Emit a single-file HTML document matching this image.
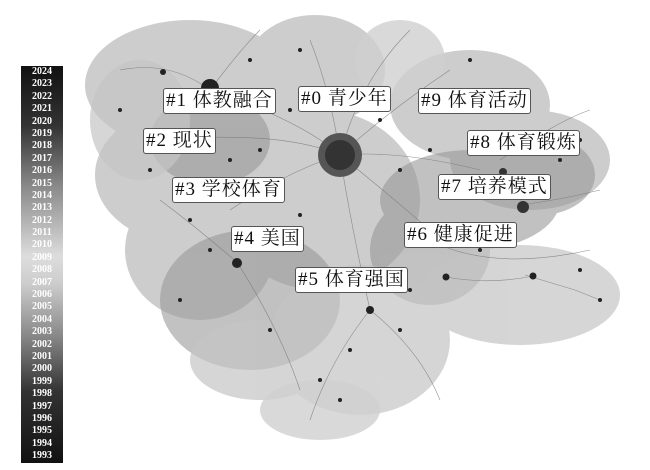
<!DOCTYPE html>
<html><head><meta charset="utf-8"><style>
html,body{margin:0;padding:0;background:#fff;width:650px;height:470px;overflow:hidden}
.lg{position:absolute;left:21px;top:66px;width:42px;height:397px;background:linear-gradient(#111 0%,#333 15%,#888 30%,#ddd 48%,#ccc 55%,#888 68%,#333 82%,#111 100%)}
.lg div{height:12.4px;line-height:12.4px;color:#fff;font:bold 10px "Liberation Serif",serif;text-align:center}
.lb{position:absolute;background:#fff;border:1px solid #555;border-radius:3px;font:19px "Liberation Serif","Noto Serif CJK SC",serif;letter-spacing:1px;color:#111;line-height:24px;padding:0 2px;white-space:nowrap}
</style></head><body>
<svg width="650" height="470" style="position:absolute;left:0;top:0">
<g fill="#bdbdbd" opacity="0.75">
<ellipse cx="190" cy="85" rx="105" ry="65"/>
<ellipse cx="315" cy="70" rx="70" ry="55"/>
<ellipse cx="470" cy="105" rx="80" ry="55"/>
<ellipse cx="530" cy="160" rx="80" ry="50"/>
<ellipse cx="190" cy="175" rx="95" ry="70"/>
<ellipse cx="200" cy="250" rx="75" ry="70"/>
<ellipse cx="320" cy="200" rx="100" ry="90"/>
</g>
<g fill="#999" opacity="0.6">
<ellipse cx="470" cy="200" rx="90" ry="50"/>
<ellipse cx="430" cy="250" rx="60" ry="55"/>
<ellipse cx="250" cy="300" rx="90" ry="70"/>
<ellipse cx="210" cy="140" rx="60" ry="45"/>
<ellipse cx="540" cy="175" rx="55" ry="40"/>
</g>
<g fill="#c4c4c4" opacity="0.7">
<ellipse cx="360" cy="340" rx="90" ry="75"/>
<ellipse cx="520" cy="295" rx="100" ry="50"/>
<ellipse cx="260" cy="360" rx="70" ry="40"/>
<ellipse cx="140" cy="120" rx="50" ry="60"/>
</g>
<g fill="#d0d0d0" opacity="0.8">
<ellipse cx="400" cy="60" rx="45" ry="40"/>
<ellipse cx="320" cy="410" rx="60" ry="30"/>
</g>
<g stroke="#777" stroke-width="0.6" fill="none" opacity="0.8">
<path d="M340 155 Q300 120 210 90"/><path d="M340 155 Q330 90 310 40"/><path d="M340 155 Q390 110 450 70"/>
<path d="M340 155 Q400 150 480 170"/><path d="M340 155 Q290 170 230 210"/><path d="M340 155 Q350 220 370 310"/>
<path d="M340 155 Q420 220 440 240"/><path d="M340 155 Q280 130 160 140"/><path d="M340 155 Q360 80 410 30"/>
<path d="M210 90 Q170 60 120 70"/><path d="M210 90 Q240 50 260 30"/><path d="M440 245 Q500 270 590 250"/>
<path d="M370 310 Q330 360 310 420"/><path d="M370 310 Q420 350 440 400"/><path d="M240 265 Q200 230 160 200"/>
<path d="M520 205 Q560 200 600 190"/><path d="M525 275 L575 290 L600 300"/><path d="M446 277 Q490 285 533 276"/>
<path d="M237 262 Q280 330 300 390"/><path d="M500 160 Q560 120 590 110"/>
</g>
<circle cx="340" cy="155" r="22" fill="#555"/><circle cx="340" cy="155" r="15" fill="#333"/>
<circle cx="210" cy="88" r="9" fill="#222"/><circle cx="237" cy="263" r="5" fill="#222"/>
<circle cx="523" cy="207" r="6" fill="#333"/><circle cx="503" cy="172" r="4" fill="#333"/>
<circle cx="370" cy="310" r="4" fill="#222"/><circle cx="446" cy="277" r="3.5" fill="#222"/>
<circle cx="533" cy="276" r="3.5" fill="#222"/><circle cx="163" cy="72" r="3" fill="#222"/>
<g fill="#222">
<circle cx="290" cy="110" r="2"/><circle cx="380" cy="120" r="2"/><circle cx="400" cy="170" r="2"/><circle cx="260" cy="150" r="2"/>
<circle cx="230" cy="160" r="2"/><circle cx="300" cy="215" r="2"/><circle cx="420" cy="230" r="2"/><circle cx="560" cy="160" r="2"/>
<circle cx="580" cy="270" r="2"/><circle cx="600" cy="300" r="2"/><circle cx="350" cy="350" r="2"/><circle cx="320" cy="380" r="2"/>
<circle cx="400" cy="330" r="2"/><circle cx="270" cy="330" r="2"/><circle cx="190" cy="220" r="2"/><circle cx="150" cy="170" r="2"/>
<circle cx="470" cy="60" r="2"/><circle cx="300" cy="50" r="2"/><circle cx="250" cy="60" r="2"/><circle cx="430" cy="150" r="2"/>
<circle cx="480" cy="250" r="2"/><circle cx="210" cy="250" r="2"/><circle cx="180" cy="300" r="2"/><circle cx="340" cy="400" r="2"/>
<circle cx="500" cy="110" r="2"/><circle cx="580" cy="140" r="2"/><circle cx="120" cy="110" r="2"/><circle cx="410" cy="290" r="2"/>
</g>
</svg>
<div class="lg"><div>2024</div><div>2023</div><div>2022</div><div>2021</div><div>2020</div><div>2019</div><div>2018</div><div>2017</div><div>2016</div><div>2015</div><div>2014</div><div>2013</div><div>2012</div><div>2011</div><div>2010</div><div>2009</div><div>2008</div><div>2007</div><div>2006</div><div>2005</div><div>2004</div><div>2003</div><div>2002</div><div>2001</div><div>2000</div><div>1999</div><div>1998</div><div>1997</div><div>1996</div><div>1995</div><div>1994</div><div>1993</div></div>
<div class="lb" style="left:163px;top:88px">#1 体教融合</div>
<div class="lb" style="left:298px;top:86px">#0 青少年</div>
<div class="lb" style="left:418px;top:88px">#9 体育活动</div>
<div class="lb" style="left:143px;top:128px">#2 现状</div>
<div class="lb" style="left:467px;top:130px">#8 体育锻炼</div>
<div class="lb" style="left:172px;top:177px">#3 学校体育</div>
<div class="lb" style="left:438px;top:174px">#7 培养模式</div>
<div class="lb" style="left:231px;top:226px">#4 美国</div>
<div class="lb" style="left:404px;top:222px">#6 健康促进</div>
<div class="lb" style="left:295px;top:267px">#5 体育强国</div>
</body></html>
